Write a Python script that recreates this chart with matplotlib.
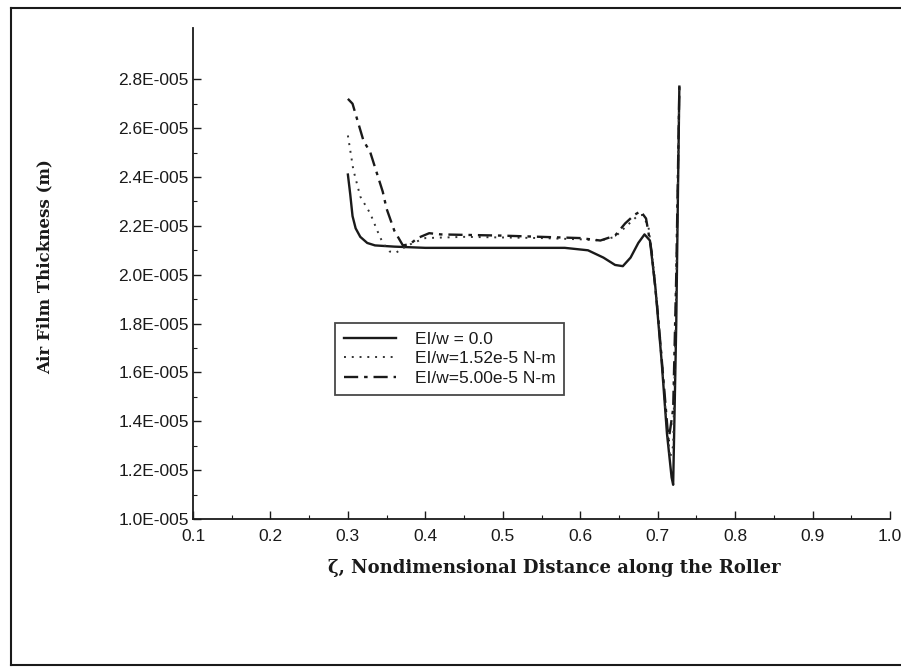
import matplotlib
matplotlib.use("Agg")
import matplotlib.pyplot as plt
from matplotlib.ticker import FixedLocator, FuncFormatter, MultipleLocator
from matplotlib.lines import Line2D

# Nondimensional distance along the roller and air film thickness (in 1e-5 m)
zeta_0 = [0.300, 0.303, 0.306, 0.310, 0.316, 0.325, 0.335, 0.360, 0.400, 0.500,
          0.580, 0.610, 0.630, 0.645, 0.655, 0.665, 0.675, 0.683, 0.690, 0.697,
          0.705, 0.712, 0.718, 0.720, 0.724, 0.728]
h_0 = [2.41, 2.33, 2.24, 2.19, 2.155, 2.13, 2.12, 2.115, 2.11, 2.11,
       2.11, 2.10, 2.07, 2.04, 2.035, 2.07, 2.13, 2.165, 2.14, 1.95,
       1.65, 1.35, 1.17, 1.14, 1.80, 2.77]

zeta_152 = [0.300, 0.307, 0.316, 0.329, 0.338, 0.345, 0.354, 0.362, 0.372, 0.384,
            0.400, 0.450, 0.550, 0.600, 0.626, 0.645, 0.660, 0.672, 0.680, 0.688,
            0.695, 0.703, 0.710, 0.716, 0.720, 0.724, 0.728]
h_152 = [2.57, 2.43, 2.32, 2.25, 2.18, 2.13, 2.095, 2.09, 2.11, 2.13,
         2.15, 2.155, 2.15, 2.145, 2.14, 2.155, 2.20, 2.235, 2.245, 2.20,
         2.02, 1.75, 1.45, 1.25, 1.30, 1.95, 2.77]

zeta_500 = [0.300, 0.306, 0.320, 0.329, 0.345, 0.350, 0.360, 0.371, 0.380, 0.390,
            0.405, 0.420, 0.500, 0.600, 0.626, 0.645, 0.658, 0.670, 0.678, 0.685,
            0.692, 0.700, 0.708, 0.714, 0.720, 0.724, 0.728]
h_500 = [2.72, 2.70, 2.55, 2.50, 2.34, 2.27, 2.18, 2.12, 2.125, 2.15,
         2.17, 2.165, 2.16, 2.15, 2.14, 2.16, 2.21, 2.245, 2.26, 2.23,
         2.10, 1.85, 1.55, 1.32, 1.45, 2.00, 2.77]

labels = ["EI/w = 0.0", "EI/w=1.52e-5 N-m", "EI/w=5.00e-5 N-m"]
y_ticks = [1.0, 1.2, 1.4, 1.6, 1.8, 2.0, 2.2, 2.4, 2.6, 2.8]

W, H = 901, 670
fig = plt.figure(figsize=(W / 100, H / 100), dpi=100)
ax = fig.add_axes([193 / W, 1 - 519 / H, (890 - 193) / W, (519 - 28) / H])

ink = "#1a1a1a"
scale = 1e-5
ax.plot(zeta_0, [v * scale for v in h_0], color=ink, lw=1.7, ls="-", label=labels[0])
ax.plot(zeta_152, [v * scale for v in h_152], color="#333333", lw=1.4,
        ls=(0, (1, 3)), label=labels[1])
ax.plot(zeta_500, [v * scale for v in h_500], color=ink, lw=1.7,
        ls=(0, (6, 2.5, 1.5, 2.5)), label=labels[2])

ax.set_xlim(0.1, 1.0)
ax.set_ylim(1.0e-5, 3.01e-5)
ax.xaxis.set_major_locator(MultipleLocator(0.1))
ax.xaxis.set_minor_locator(MultipleLocator(0.05))
ax.yaxis.set_major_locator(FixedLocator([v * scale for v in y_ticks]))
ax.yaxis.set_minor_locator(FixedLocator([(v + 0.1) * scale for v in y_ticks[:-1]]))
ax.yaxis.set_major_formatter(FuncFormatter(lambda v, p: f"{v / scale:.1f}E-005"))
ax.xaxis.set_major_formatter(FuncFormatter(lambda v, p: f"{v:.1f}"))

for s in ("top", "right"):
    ax.spines[s].set_visible(False)
for s in ("left", "bottom"):
    ax.spines[s].set_linewidth(1.3)
    ax.spines[s].set_color(ink)

ax.tick_params(which="major", direction="in", length=6, width=1.0, color=ink,
               labelsize=12.5, labelcolor=ink)
ax.tick_params(which="minor", direction="in", length=3, width=0.8, color=ink)
ax.tick_params(axis="x", pad=7)
ax.tick_params(axis="y", pad=3)
for lab in ax.get_xticklabels() + ax.get_yticklabels():
    lab.set_fontfamily("Liberation Sans")

leg = ax.legend(loc="upper left", bbox_to_anchor=(335 / W, 1 - 323 / H),
                bbox_transform=fig.transFigure, frameon=True, fancybox=False,
                edgecolor=ink, handlelength=3.0, labelspacing=0.25,
                borderpad=0.5, handletextpad=1.1, borderaxespad=0,
                prop={"family": "Liberation Sans", "size": 12.5})
leg.get_frame().set_linewidth(1.3)
for t in leg.get_texts():
    t.set_color(ink)

fig.text(45 / W, 1 - 267 / H, "Air Film Thickness (m)", rotation=90,
         ha="center", va="center", fontsize=12, fontweight="bold",
         family="DejaVu Serif", color=ink)
fig.text(554 / W, 1 - 568 / H, "\u03b6, Nondimensional Distance along the Roller",
         ha="center", va="center", fontsize=13, fontweight="bold",
         family="DejaVu Serif", color=ink)

# Page frame around the figure
frame_kw = dict(color=ink, lw=1.5, transform=fig.transFigure)
fig.add_artist(Line2D([11 / W, 1.0], [1 - 8 / H, 1 - 8 / H], **frame_kw))
fig.add_artist(Line2D([11 / W, 11 / W], [1 - 8 / H, 1 - 665 / H], **frame_kw))
fig.add_artist(Line2D([11 / W, 1.0], [1 - 665 / H, 1 - 665 / H], **frame_kw))

fig.savefig("out.png", dpi=100)
